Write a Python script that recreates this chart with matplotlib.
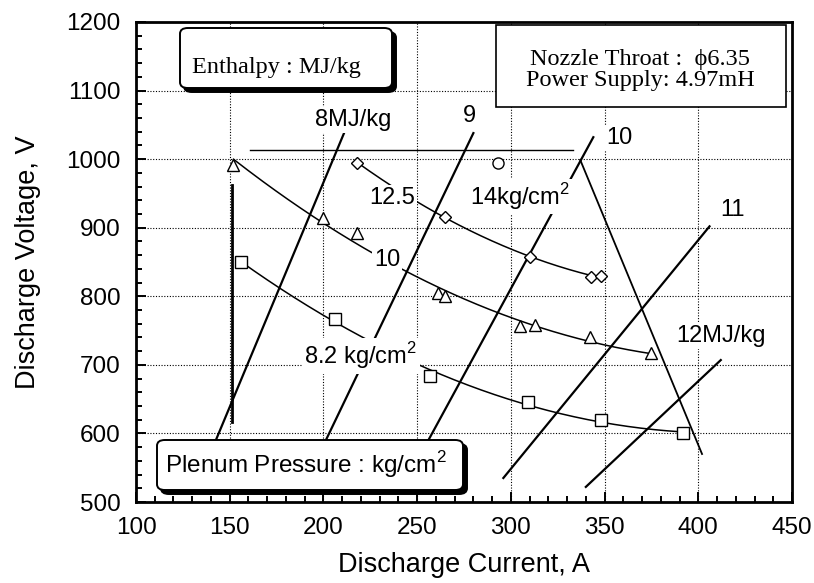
import numpy as np
import matplotlib.pyplot as plt
from matplotlib.patches import FancyBboxPatch
from matplotlib.ticker import MultipleLocator

plt.rcParams['font.family'] = ['Liberation Sans', 'DejaVu Sans']

# Measured operating points per plenum pressure: discharge current (A), voltage (V)
p125_current = [218, 265, 310, 343, 348]
p125_voltage = [995, 915, 858, 828, 829]
p10_current = [152, 200, 218, 261, 265, 305, 313, 342, 375]
p10_voltage = [992, 914, 892, 805, 801, 757, 758, 740, 717]
p82_current = [156, 206, 257, 309, 348, 392]
p82_voltage = [850, 767, 684, 646, 619, 600]
p14_current = [293]
p14_voltage = [995]

# Constant-enthalpy lines (end points)
enthalpy_labels = ['8MJ/kg', '9', '10', '11', '12MJ/kg']
enth_current_top = [211, 280, 344, 406, 412]
enth_voltage_top = [1038, 1038, 1032, 902, 707]
enth_current_bot = [138, 196, 250, 296, 340]
enth_voltage_bot = [560, 560, 560, 535, 522]

# Operating envelope lines
env_top_current = [161, 333]
env_top_voltage = [1014, 1014]
env_left_current = [151, 151]
env_left_voltage = [617, 962]
env_right_current = [337, 402]
env_right_voltage = [999, 570]

SUP2 = r'$^{\mathregular{2}}$'

fig = plt.figure(figsize=(8.14, 5.83), dpi=100)
ax = fig.add_axes([136 / 814, 1 - 502 / 583, 656 / 814, 480 / 583])

ax.set_xlim(100, 450)
ax.set_ylim(500, 1200)
ax.xaxis.set_major_locator(MultipleLocator(50))
ax.xaxis.set_minor_locator(MultipleLocator(10))
ax.yaxis.set_major_locator(MultipleLocator(100))
ax.yaxis.set_minor_locator(MultipleLocator(20))
ax.tick_params(which='both', direction='in', top=False, right=False,
               width=1.4, labelsize=17.5)
ax.tick_params(which='major', length=7)
ax.tick_params(which='minor', length=4.5)
ax.tick_params(axis='x', pad=11)
ax.tick_params(axis='y', pad=11)
ax.grid(True, which='major', linestyle=(0, (1, 1.5)), color='black', linewidth=0.8)
for s in ax.spines.values():
    s.set_linewidth(2.0)

ax.set_xlabel('Discharge Current, A', fontsize=19.5, labelpad=9)
ax.set_ylabel('Discharge Voltage, V', fontsize=19.5, labelpad=18)

# Fitted trend curves through each pressure series
def trend(xs, ys):
    c = np.polyfit(xs, ys, 2)
    xx = np.linspace(min(xs), max(xs), 200)
    ax.plot(xx, np.polyval(c, xx), color='black', lw=1.1, zorder=3)

trend(p125_current, p125_voltage)
trend(p10_current, p10_voltage)
trend(p82_current, p82_voltage)

mk = dict(linestyle='none', markerfacecolor='white', markeredgecolor='black',
          markeredgewidth=1.0, zorder=4)
ax.plot(p125_current, p125_voltage, marker='D', markersize=6.5, **mk)
ax.plot(p10_current, p10_voltage, marker='^', markersize=9, **mk)
ax.plot(p82_current, p82_voltage, marker='s', markersize=9, **mk)
ax.plot(p14_current, p14_voltage, marker='o', markersize=8, **mk)

# Constant-enthalpy lines
for x0, y0, x1, y1 in zip(enth_current_bot, enth_voltage_bot,
                          enth_current_top, enth_voltage_top):
    ax.plot([x0, x1], [y0, y1], color='black', lw=1.6, zorder=2)

# Envelope
ax.plot(env_top_current, env_top_voltage, color='black', lw=1.0, zorder=2)
ax.plot(env_left_current, env_left_voltage, color='black', lw=2.0, zorder=2)
ax.plot(env_right_current, env_right_voltage, color='black', lw=1.3, zorder=2)

# Curve labels
lab = dict(fontsize=17, ha='center', va='center', zorder=5,
           bbox=dict(facecolor='white', edgecolor='none', pad=1.5))
ax.text(216, 1057, enthalpy_labels[0], **lab)
ax.text(278, 1063, enthalpy_labels[1], **lab)
ax.text(358, 1031, enthalpy_labels[2], **lab)
ax.text(418, 926, enthalpy_labels[3], **lab)
ax.text(412, 742, enthalpy_labels[4], **lab)
ax.text(305, 945, '14kg/cm' + SUP2, **lab)
ax.text(236.5, 943, '12.5', **lab)
ax.text(234, 853, '10', **lab)
ax.text(220, 713, '8.2 kg/cm' + SUP2, **lab)


def px_box(x0, y0, x1, y1, shadow=0, rounding=0.0, lw=1.4):
    fx0, fx1 = (x0 - 136) / 656, (x1 - 136) / 656
    fy0, fy1 = (502 - y1) / 480, (502 - y0) / 480
    style = f'round,pad=0,rounding_size={rounding}' if rounding else 'square,pad=0'
    if shadow:
        dx, dy = shadow / 656, shadow / 480
        ax.add_patch(FancyBboxPatch((fx0 + dx, fy0 - dy), fx1 - fx0, fy1 - fy0,
                                    boxstyle=style, transform=ax.transAxes,
                                    facecolor='black', edgecolor='black',
                                    lw=lw, zorder=6))
    ax.add_patch(FancyBboxPatch((fx0, fy0), fx1 - fx0, fy1 - fy0,
                                boxstyle=style, transform=ax.transAxes,
                                facecolor='white', edgecolor='black',
                                lw=lw, zorder=7))


def px_text(x, y, s, **kw):
    ax.text((x - 136) / 656, (502 - y) / 480, s, transform=ax.transAxes,
            ha='center', va='center', zorder=8, **kw)


px_box(180, 28, 392, 88, shadow=4, rounding=0.012)
px_text(276, 68, 'Enthalpy : MJ/kg', fontsize=17.5,
        family=['Liberation Serif', 'DejaVu Serif'])

px_box(496, 25, 786, 107, lw=1.2)
px_text(640, 70, 'Nozzle Throat :  ϕ6.35\nPower Supply: 4.97mH', fontsize=17.5,
        family=['Liberation Serif', 'DejaVu Serif'], linespacing=1.0)

px_box(157, 440, 463, 490, shadow=4, rounding=0.012)
px_text(306, 465, 'Plenum Pressure : kg/cm' + SUP2, fontsize=17.5)

fig.savefig('out.png', dpi=100)
